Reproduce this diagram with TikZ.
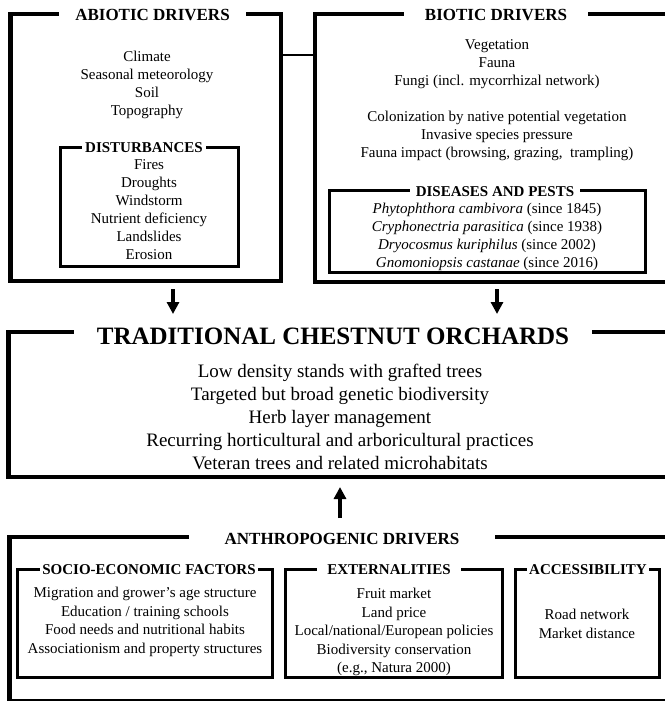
\documentclass[tikz,border=0pt]{standalone}
\usepackage{fontspec}
\setmainfont{Liberation Serif}
\usetikzlibrary{arrows.meta}

\begin{document}
\begin{tikzpicture}[x=1pt, y=-1pt,
        frame/.style={draw, line width=4.2pt, inner sep=0pt},
        subframe/.style={draw, line width=3pt, inner sep=0pt},
        head/.style={fill=white, inner ysep=1pt, font=\fontsize{17}{20}\selectfont\bfseries},
        subhead/.style={fill=white, inner ysep=1pt, font=\fontsize{15}{18}\selectfont\bfseries},
        items/.style={align=center, inner sep=0pt, font=\fontsize{15}{18}\selectfont},
        flow/.style={line width=3.5pt, -{Triangle[width=12pt, length=12pt]}},
        link/.style={line width=1.8pt}
    ]

    \useasboundingbox (0,0) rectangle (664,701);

    % frames
    \node[frame, minimum width=270.5pt, minimum height=267pt] (abiotic) at (145.75,147.5) {};
    \node[frame, minimum width=385pt, minimum height=268pt] (biotic) at (507.5,148) {};
    \node[subframe, minimum width=178pt, minimum height=119pt] (disturb) at (149,206.5) {};
    \node[subframe, minimum width=316pt, minimum height=82pt] (pests) at (487,231) {};
    \node[frame, minimum width=691.5pt, minimum height=145pt] (orchard) at (354.25,404.5) {};
    \node[frame, minimum width=690.5pt, minimum height=164.5pt] (anthro) at (354.75,619.25) {};
    \node[subframe, minimum width=255pt, minimum height=108pt] (socio) at (144.5,623) {};
    \node[subframe, minimum width=217pt, minimum height=108pt] (extern) at (393.5,623) {};
    \node[subframe, minimum width=144pt, minimum height=108pt] (access) at (587,623) {};

    \draw[link] (abiotic.east |- 0,55) -- (biotic.west |- 0,55);

    % headings
    \node[head, inner xsep=16pt] (abiotic-t) at (152.5,15) {ABIOTIC DRIVERS};
    \node[head, inner xsep=21pt] (biotic-t) at (496,15) {BIOTIC DRIVERS};
    \node[head, inner xsep=23pt, font=\fontsize{25}{28}\selectfont\bfseries] (orchard-t) at (333,336) {TRADITIONAL CHESTNUT ORCHARDS};
    \node[head, inner xsep=36pt] (anthro-t) at (342,539) {ANTHROPOGENIC DRIVERS};
    \node[subhead, inner xsep=3pt] (disturb-t) at (144,148) {DISTURBANCES};
    \node[subhead, inner xsep=6pt] (pests-t) at (495,192) {DISEASES AND PESTS};
    \node[subhead, inner xsep=2pt] (socio-t) at (149,570) {SOCIO-ECONOMIC FACTORS};
    \node[subhead, inner xsep=10pt] (extern-t) at (389,570) {EXTERNALITIES};
    \node[subhead, inner xsep=2pt] (access-t) at (588,570) {ACCESSIBILITY};

    % lists
    \node[items] (abiotic-l) at (147,85) {Climate\\Seasonal meteorology\\Soil\\Topography};
    \node[items] (disturb-l) at (149,210) {Fires\\Droughts\\Windstorm\\Nutrient deficiency\\Landslides\\Erosion};
    \node[items] (biotic-l) at (497,100) {Vegetation\\Fauna\\Fungi (incl. mycorrhizal network)\\[18pt]
        Colonization by native potential vegetation\\Invasive species pressure\\Fauna impact (browsing, grazing,~ trampling)};
    \node[items] (pests-l) at (487,237) {\textit{Phytophthora cambivora} (since 1845)\\\textit{Cryphonectria parasitica} (since 1938)\\
        \textit{Dryocosmus kuriphilus} (since 2002)\\\textit{Gnomoniopsis castanae} (since 2016)};
    \node[items, font=\fontsize{19}{23}\selectfont] (orchard-l) at (340,417) {Low density stands with grafted trees\\
        Targeted but broad genetic biodiversity\\Herb layer management\\
        Recurring horticultural and arboricultural practices\\Veteran trees and related microhabitats};
    \node[items, font=\fontsize{15}{18.5}\selectfont] (socio-l) at (145,622) {Migration and grower’s age structure\\
        Education / training schools\\Food needs and nutritional habits\\Associationism and property structures};
    \node[items, font=\fontsize{15}{18.5}\selectfont] (extern-l) at (394,632) {Fruit market\\Land price\\
        Local/national/European policies\\Biodiversity conservation\\(e.g., Natura 2000)};
    \node[items, font=\fontsize{15}{18.5}\selectfont] (access-l) at (587,624) {Road network\\Market distance};

    % arrows
    \coordinate (ab1) at (173,289);
    \coordinate (ab2) at (173,314);
    \coordinate (bi1) at (497,289);
    \coordinate (bi2) at (497,314);
    \coordinate (an1) at (340,518);
    \coordinate (an2) at (340,487);
    \draw[flow] (ab1) -- (ab2);
    \draw[flow] (bi1) -- (bi2);
    \draw[flow] (an1) -- (an2);

\end{tikzpicture}
\end{document}
